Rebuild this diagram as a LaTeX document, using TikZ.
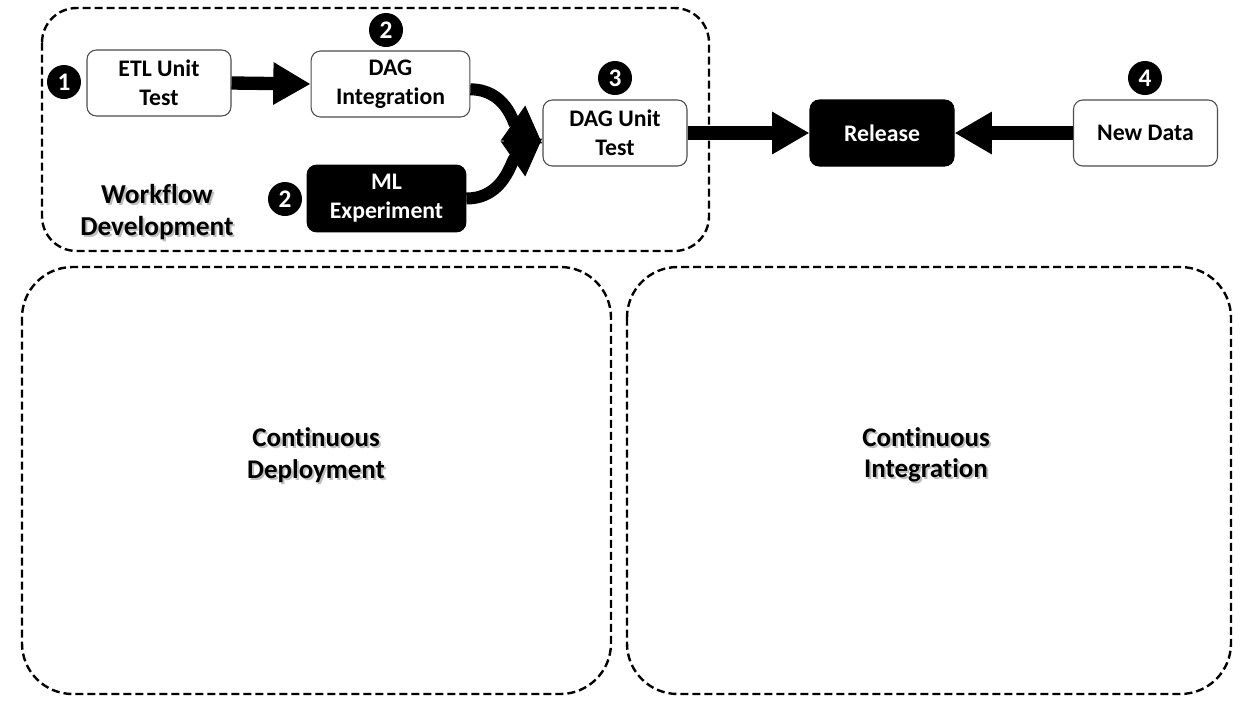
\documentclass[tikz,border=0pt]{standalone}
\usepackage{fontspec}
\setmainfont{Carlito}[Ligatures=NoCommon]
\usetikzlibrary{arrows.meta}
\begin{document}
\begin{tikzpicture}[x=0.75pt,y=-0.75pt,
 box/.style={draw=black!70, line width=0.8pt, rounded corners=7pt, fill=white, minimum width=108pt, minimum height=49.5pt, align=center, font=\fontsize{17.8}{21.8}\selectfont\bfseries, inner sep=0pt},
 darkbox/.style={box, fill=black, draw=black, text=white},
 num/.style={circle, fill=black, text=white, minimum size=25.5pt, inner sep=0pt, font=\fontsize{19}{19}\selectfont\bfseries},
 group/.style={draw=black, line width=1.8pt, dash pattern=on 6pt off 3pt, rounded corners=26pt},
 bigroup/.style={group, rounded corners=38pt},
 fat/.style={line width=10pt, -{Triangle[length=28pt,width=30pt]}},
 fatc/.style={line width=9pt, -{Triangle[length=27pt,width=30pt]}},
 title/.style={align=center, font=\fontsize{20.5}{24}\selectfont\bfseries},
 shadowt/.style={title, text=black!25}
]
\useasboundingbox (0,0) rectangle (1252,704);
% groups
\draw[group] (42,8) rectangle (709,251);
\draw[bigroup] (22,267) rectangle (611,694);
\draw[bigroup] (627,267) rectangle (1231,694);
% group titles
\node[shadowt] (wfs) at (159,214) {Workflow\\Development};
\node[title] (wf) at (157,212) {Workflow\\Development};
\node[shadowt, font=\fontsize{20.2}{23.5}\selectfont\bfseries] (cds) at (318,457) {Continuous\\Deployment};
\node[title, font=\fontsize{20.2}{23.5}\selectfont\bfseries] (cd) at (316,455) {Continuous\\Deployment};
\node[shadowt, font=\fontsize{20.2}{23.5}\selectfont\bfseries] (cis) at (928,457) {Continuous\\Integration};
\node[title, font=\fontsize{20.2}{23.5}\selectfont\bfseries] (ci) at (926,455) {Continuous\\Integration};
% boxes
\node[box] (etl) at (159,83) {ETL Unit\\Test};
\node[box, minimum width=119pt] (dagi) at (390.5,84) {DAG\\Integration};
\node[box] (dut) at (615,133) {DAG Unit\\Test};
\node[darkbox, minimum width=119pt, minimum height=50pt] (ml) at (386.5,198.5) {ML\\Experiment};
\node[darkbox] (rel) at (882,133) {Release};
\node[box] (nd) at (1145.5,133) {New Data};
% numbers
\node[num] (n1) at (64,82) {1};
\node[num] (n2a) at (386,30) {2};
\node[num] (n3) at (615,78) {3};
\node[num] (n2b) at (285,199) {2};
\node[num] (n4) at (1145,78) {4};
% arrows
\draw[fat] (etl.east) -- (dagi.west);
\draw[fatc] ([yshift=-4]dagi.east) to[out=0,in=145] ([yshift=-8]dut.west);
\draw[fatc] (ml.east) to[out=0,in=215] ([yshift=-4]dut.west);
\draw[fat] (dut.east) -- (rel.west);
\draw[fat] (nd.west) -- (rel.east);
\end{tikzpicture}
\end{document}
